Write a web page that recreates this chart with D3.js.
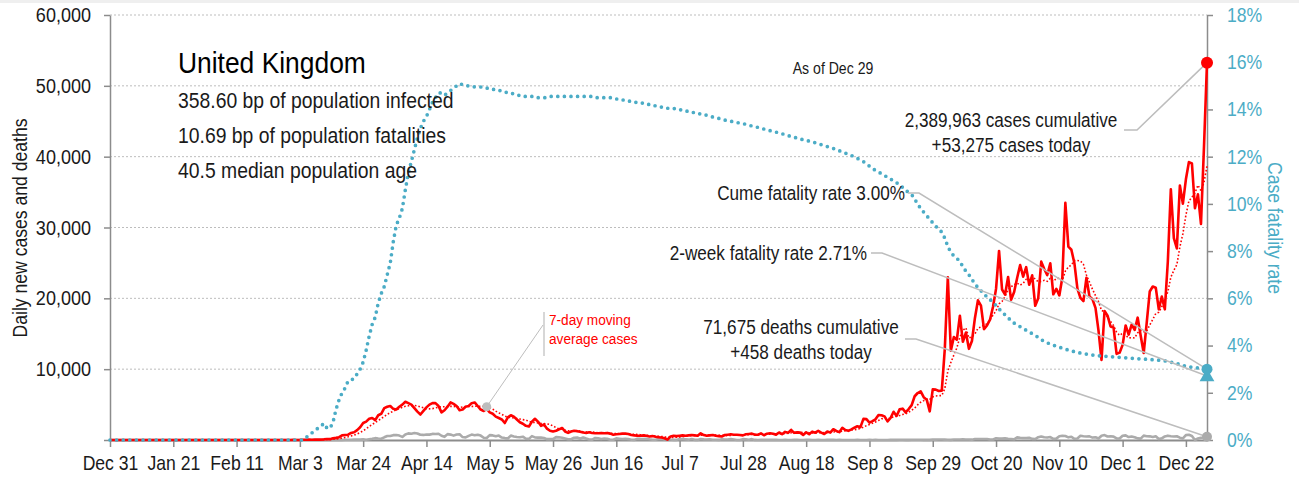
<!DOCTYPE html>
<html>
<head>
<meta charset="utf-8">
<script src="https://cdn.jsdelivr.net/npm/d3@7"></script>
<style>
  body { margin: 0; background: #fff; }
  svg { display: block; }
</style>
</head>
<body>
<svg id="chart" width="1299" height="480"></svg>
<script>
// ---- Data: United Kingdom, daily series from 2019-12-31 to 2020-12-29 ----
const seriesStart = "2019-12-31";

// Dec 31 .. Feb 29: nothing reported yet
const quietDays = [0,0,0,0,0,0,0,0,0,0,0,0,0,0,0,0,0,0,0,0,0,0,0,0,0,0,0,0,0,0,0,0,0,0,0,0,0,0,0,0,0,0,0,0,0,0,0,0,0,0,0,0,0,0,0,0,0,0,0,0,0];

// Daily new cases, one array per month
const casesMar = [13,4,11,34,30,48,43,67,48,52,83,134,117,250,300,400,650,700,750,1000,1100,1400,1800,2400,2600,3000,3100,2800,3500,3700,4500];
const casesApr = [4700,4800,4400,4300,4700,5000,5400,5200,5000,4500,4000,3600,4100,4600,5000,5200,5200,4800,3900,4200,4700,5300,5100,4800,4200,4300,4700,4800,5200,5300];
const casesMay = [4800,4300,4100,4400,3900,3700,3300,3100,2900,2400,3200,3500,3300,2900,2500,2300,2000,1900,2600,3000,2600,2000,2200,1600,1300,1200,1300,1500,1700,1200,1000];
const casesJun = [1200,1300,1250,1150,1050,1000,1100,1000,950,950,1000,950,1000,900,750,800,850,900,900,850,700,650,600,600,650,600,500,550,450,400];
const casesJul = [350,250,50,500,600,550,600,650,600,650,700,650,600,950,700,600,650,700,600,550,500,700,750,800,750,750,700,650,800,850,900];
const casesAug = [744,743,938,670,892,950,871,758,1062,816,1148,1009,1441,1012,1077,1040,713,1089,812,1182,1033,1288,1041,853,1184,1048,1522,1276,1108,1715,1406];
const casesSep = [1295,1508,1735,1940,1813,2988,2948,2460,2659,2919,3539,3497,3330,2621,3105,3991,3395,4322,4422,3899,4368,4926,6178,6634,6874,6042,5693,4044,7143,7108];
const casesOct = [6914,6968,12872,22961,12594,14542,14162,17540,13864,15166,12872,13972,17234,19724,18980,15650,16171,16982,18804,21331,26688,21242,20530,23012,19790,20890,22885,24701,23065,24405,21915];
const casesNov = [23254,18950,20018,25177,24141,23287,24957,20572,21350,20412,22950,33470,27301,26860,24962,21363,20051,19609,22915,20252,19875,18662,15450,11299,18213,17555,16022,15871,12155,12330];
const casesDec = [13430,16170,14879,16298,15539,17272,14718,12282,16578,20964,21672,21502,18447,20263,18450,25161,35383,28507,27052,35928,33364,36804,39237,39036,32725,34693,30501,41385,53275];

// Daily new deaths, one array per month
const deathsMar = [0,0,0,0,1,1,0,1,1,0,2,2,1,10,14,20,16,33,40,33,56,48,54,87,41,115,181,260,209,180,381];
const deathsApr = [563,569,684,708,621,439,786,938,881,980,917,737,717,778,761,861,847,888,596,449,828,763,616,768,813,413,360,586,765,674];
const deathsMay = [739,621,315,288,693,649,539,626,346,269,210,627,494,428,384,468,170,160,545,363,338,351,282,118,121,134,412,377,324,215,113];
const deathsJun = [111,324,359,176,357,204,77,55,286,245,151,202,181,36,38,233,184,135,173,128,43,15,171,154,149,186,100,36,25,155];
const deathsJul = [176,89,137,67,22,16,155,126,85,48,148,21,11,138,85,66,114,40,28,11,110,79,61,123,61,7,7,119,83,38,120];
const deathsAug = [11,8,18,20,18,12,18,13,7,3,14,9,10,11,12,5,6,12,16,6,9,12,2,3,16,14,12,9,12,1,2];
const deathsSep = [3,3,10,12,6,2,3,32,8,14,6,9,5,9,27,20,21,27,27,18,11,37,37,40,34,17,17,13,71,59];
const deathsOct = [66,66,49,33,19,76,70,77,87,81,65,50,143,137,138,136,150,67,80,241,191,189,224,174,151,102,367,310,280,274,326];
const deathsNov = [162,136,397,492,378,355,413,156,194,532,595,563,376,462,168,213,598,529,501,511,341,398,206,608,696,498,521,479,215,205];
const deathsDec = [603,648,414,504,397,231,189,616,533,516,424,519,144,232,506,612,532,489,534,326,215,691,744,570,0,210,316,357,458];

// Cumulative case fatality rate (%), one array per month
const cfrMar = [0,0,0,0,0.1,0.2,0.3,0.4,0.5,0.6,0.7,0.5,0.5,0.75,1.3,1.7,2.0,2.2,2.5,2.55,2.6,2.8,3.0,3.3,3.8,4.4,4.9,5.2,5.8,6.2,6.5];
const cfrApr = [7.0,7.5,8.4,9.1,9.4,9.8,10.6,11.3,11.8,12.3,12.8,13.2,13.5,13.7,14.0,14.3,14.5,14.7,14.7,14.6,14.7,14.8,14.9,15.0,15.1,15.05,15.0,15.0,15.0,14.95];
const cfrMay = [14.95,14.95,14.95,14.9,14.9,14.85,14.85,14.8,14.8,14.75,14.7,14.7,14.65,14.6,14.6,14.55,14.55,14.55,14.55,14.55,14.5,14.5,14.5,14.5,14.55,14.55,14.55,14.55,14.55,14.55,14.55];
const cfrJun = [14.55,14.55,14.55,14.55,14.55,14.55,14.55,14.55,14.5,14.5,14.5,14.5,14.5,14.5,14.45,14.45,14.4,14.4,14.4,14.35,14.35,14.3,14.3,14.3,14.25,14.25,14.2,14.2,14.15,14.15];
const cfrJul = [14.1,14.1,14.05,14.05,14.05,14.0,14.0,13.95,13.95,13.9,13.9,13.85,13.85,13.8,13.8,13.75,13.72,13.68,13.65,13.62,13.58,13.55,13.52,13.5,13.48,13.45,13.42,13.4,13.37,13.33,13.3];
const cfrAug = [13.27,13.24,13.2,13.17,13.14,13.1,13.07,13.04,13.0,12.97,12.93,12.89,12.86,12.82,12.79,12.75,12.72,12.69,12.66,12.62,12.59,12.55,12.51,12.47,12.43,12.39,12.35,12.3,12.25,12.2,12.15];
const cfrSep = [12.1,12.05,12.0,11.93,11.86,11.79,11.7,11.6,11.5,11.42,11.35,11.28,11.2,11.13,11.05,10.98,10.9,10.8,10.7,10.58,10.48,10.4,10.2,10.0,9.8,9.65,9.5,9.35,9.2,9.05];
const cfrOct = [8.95,8.8,8.55,8.2,7.95,7.8,7.7,7.55,7.35,7.15,7.0,6.8,6.62,6.45,6.32,6.2,6.05,5.95,5.82,5.7,5.55,5.42,5.3,5.18,5.05,4.95,4.88,4.8,4.72,4.65,4.58];
const cfrNov = [4.5,4.42,4.35,4.25,4.18,4.12,4.06,4.02,3.97,3.93,3.89,3.85,3.81,3.77,3.74,3.71,3.68,3.66,3.64,3.62,3.6,3.58,3.57,3.56,3.55,3.54,3.53,3.52,3.51,3.5];
const cfrDec = [3.49,3.48,3.47,3.46,3.45,3.44,3.44,3.43,3.42,3.41,3.4,3.39,3.38,3.36,3.35,3.33,3.3,3.27,3.24,3.2,3.16,3.13,3.1,3.08,3.07,3.05,3.04,3.02,3.0];

// Latest figures shown in the callouts
const twoWeekFatalityPct = 2.71;
const cumulativeCases = 2389963;
const cumulativeDeaths = 71675;
const movingAverageWindow = 7;
const calloutDate = "2020-05-04";

// Axis ticks
const countTicks = [0,10000,20000,30000,40000,50000,60000];
const rateTicks = [0,2,4,6,8,10,12,14,16,18];
const dateTicks = ["2019-12-31","2020-01-21","2020-02-11","2020-03-03","2020-03-24","2020-04-14","2020-05-05","2020-05-26","2020-06-16","2020-07-07","2020-07-28","2020-08-18","2020-09-08","2020-09-29","2020-10-20","2020-11-10","2020-12-01","2020-12-22"];

// Header text
const titleText = "United Kingdom";
const statLines = ["358.60 bp of population infected","10.69 bp of population fatalities","40.5 median population age"];

// ---- Assemble series ----
const casesDaily = [].concat(quietDays, casesMar, casesApr, casesMay, casesJun, casesJul, casesAug, casesSep, casesOct, casesNov, casesDec);
const deathsDaily = [].concat(quietDays, deathsMar, deathsApr, deathsMay, deathsJun, deathsJul, deathsAug, deathsSep, deathsOct, deathsNov, deathsDec);
const fatalityRate = [].concat(quietDays, cfrMar, cfrApr, cfrMay, cfrJun, cfrJul, cfrAug, cfrSep, cfrOct, cfrNov, cfrDec);

const parse = d3.utcParse("%Y-%m-%d");
const day0 = parse(seriesStart);
const dates = casesDaily.map((_, i) => d3.utcDay.offset(day0, i));

// trailing 7-day mean of daily cases
const casesAvg = casesDaily.map((_, i) =>
  d3.mean(casesDaily.slice(Math.max(0, i - movingAverageWindow + 1), i + 1)));

// ---- Layout ----
const FONT = "'Liberation Sans', Arial, sans-serif";
const NARROW = 0.88;            // horizontal squeeze for a condensed look
const W = 1299, H = 480;
const plot = { left: 110, right: 1207, top: 15, bottom: 440 };
const RED = "#ff0000", GREY = "#ababab", BLUE = "#4bacc6", AXIS = "#8c8c8c", INK = "#1a1a1a";

const svg = d3.select("#chart").attr("font-family", FONT);

svg.append("rect").attr("x", 0).attr("y", 0).attr("width", W).attr("height", 3).attr("fill", "#efefef");

const x = d3.scaleUtc().domain(d3.extent(dates)).range([plot.left, plot.right]);
const yCount = d3.scaleLinear().domain([0, 60000]).range([plot.bottom, plot.top]);
const yRate = d3.scaleLinear().domain([0, 18]).range([plot.bottom, plot.top]);

// gridlines
svg.append("g").selectAll("line")
  .data(countTicks.filter(v => v > 0))
  .join("line")
  .attr("x1", plot.left).attr("x2", plot.right)
  .attr("y1", d => yCount(d)).attr("y2", d => yCount(d))
  .attr("stroke", "#bdbdbd").attr("stroke-width", 1).attr("stroke-dasharray", "2,2");

// left axis
const gLeft = svg.append("g").attr("transform", `translate(${plot.left},0)`)
  .call(d3.axisLeft(yCount).tickValues(countTicks).tickSize(6).tickSizeOuter(0).tickPadding(13)
    .tickFormat(d => d === 0 ? "" : d3.format(",")(d)));
gLeft.attr("font-family", FONT).attr("font-size", 20.5);
gLeft.select(".domain").attr("stroke", AXIS).attr("stroke-width", 1.5);
gLeft.selectAll(".tick line").attr("stroke", AXIS).attr("stroke-width", 1.5);
gLeft.selectAll(".tick text").attr("fill", INK);

// right axis
const gRight = svg.append("g").attr("transform", `translate(${plot.right},0)`)
  .call(d3.axisRight(yRate).tickValues(rateTicks).tickSize(6).tickSizeOuter(0).tickPadding(14)
    .tickFormat(d => d + "%"));
gRight.attr("font-family", FONT).attr("font-size", 20);
gRight.select(".domain").attr("stroke", AXIS).attr("stroke-width", 1.5);
gRight.selectAll(".tick line").attr("stroke", AXIS).attr("stroke-width", 1.5);
gRight.selectAll(".tick text").attr("fill", BLUE);

// bottom axis
const gBottom = svg.append("g").attr("transform", `translate(0,${plot.bottom})`)
  .call(d3.axisBottom(x).tickValues(dateTicks.map(parse)).tickSize(7).tickSizeOuter(0).tickPadding(9)
    .tickFormat(d3.utcFormat("%b %-d")));
gBottom.attr("font-family", FONT).attr("font-size", 20);
gBottom.select(".domain").attr("stroke", AXIS).attr("stroke-width", 2);
gBottom.selectAll(".tick line").attr("stroke", AXIS).attr("stroke-width", 1.5);
gBottom.selectAll(".tick text").attr("fill", INK);

// axis titles
svg.append("text").attr("transform", `translate(27,228) rotate(-90)`)
  .attr("text-anchor", "middle").attr("font-size", 20).attr("fill", INK)
  .text("Daily new cases and deaths");
svg.append("text").attr("transform", `translate(1268,228) rotate(90)`)
  .attr("text-anchor", "middle").attr("font-size", 20).attr("fill", BLUE)
  .text("Case fatality rate");

// ---- Series ----
const lineOn = yS => d3.line().x((d, i) => x(dates[i])).y(d => yS(d));

svg.append("path").datum(deathsDaily)
  .attr("d", lineOn(yCount)).attr("fill", "none")
  .attr("stroke", GREY).attr("stroke-width", 2.6).attr("stroke-linejoin", "round");

svg.append("path").datum(casesDaily)
  .attr("d", lineOn(yCount)).attr("fill", "none")
  .attr("stroke", RED).attr("stroke-width", 2.6).attr("stroke-linejoin", "round");

svg.append("path").datum(casesAvg)
  .attr("d", lineOn(yCount)).attr("fill", "none")
  .attr("stroke", RED).attr("stroke-width", 1.6).attr("stroke-dasharray", "1.6,2");

svg.append("path").datum(fatalityRate)
  .attr("d", lineOn(yRate)).attr("fill", "none")
  .attr("stroke", BLUE).attr("stroke-width", 3.7)
  .attr("stroke-linecap", "round").attr("stroke-dasharray", "0,6.6");

// ---- Callouts ----
const last = dates.length - 1;
const xEnd = x(dates[last]);
const casesEnd = [xEnd, yCount(casesDaily[last])];
const cfrEnd = [xEnd, yRate(fatalityRate[last])];
const twoWeekEnd = [xEnd, yRate(twoWeekFatalityPct)];
const deathsEnd = [xEnd, yCount(deathsDaily[last])];

const leader = svg.append("g").attr("fill", "none").attr("stroke", "#bdbdbd").attr("stroke-width", 1.5);
const path3 = (a, b, c) => `M${a[0]},${a[1]}L${b[0]},${b[1]}L${c[0]},${c[1]}`;
leader.append("path").attr("d", path3([1124, 130], [1137, 130], casesEnd));
leader.append("path").attr("d", path3([908, 193], [919, 193], cfrEnd));
leader.append("path").attr("d", path3([871, 253], [882, 253], twoWeekEnd));
leader.append("path").attr("d", path3([905, 339], [916, 339], deathsEnd));

// moving-average pointer
const ci = d3.bisectLeft(dates, parse(calloutDate));
const maPoint = [x(dates[ci]), yCount(casesAvg[ci])];
leader.append("path").attr("d", `M${maPoint[0]},${maPoint[1]}L543,325`).attr("stroke-width", 1);
leader.append("path").attr("d", "M544,312L544,356").attr("stroke-width", 1.2);
svg.append("circle").attr("cx", maPoint[0]).attr("cy", maPoint[1]).attr("r", 4.5).attr("fill", "#bdbdbd");

// end markers
svg.append("circle").attr("cx", deathsEnd[0]).attr("cy", deathsEnd[1]).attr("r", 5).attr("fill", GREY);
svg.append("path").attr("transform", `translate(${twoWeekEnd[0]},${twoWeekEnd[1] + 1})`)
  .attr("d", d3.symbol(d3.symbolTriangle, 95)()).attr("fill", BLUE);
svg.append("circle").attr("cx", cfrEnd[0]).attr("cy", cfrEnd[1]).attr("r", 5.5).attr("fill", BLUE);
svg.append("circle").attr("cx", casesEnd[0]).attr("cy", casesEnd[1]).attr("r", 6).attr("fill", RED);

// ---- Text ----
svg.append("text").attr("x", 178).attr("y", 73).attr("font-size", 30).attr("fill", "#000").text(titleText);
svg.append("g").selectAll("text").data(statLines).join("text")
  .attr("x", 178).attr("y", (d, i) => 108 + i * 35)
  .attr("font-size", 22).attr("fill", INK).text(d => d);

svg.append("text").attr("x", 833).attr("y", 74).attr("text-anchor", "middle")
  .attr("font-size", 16).attr("fill", INK).text("As of " + d3.utcFormat("%b %-d")(dates[last]));

const fmt = d3.format(",");
const notes = [
  { x: 1011, y: 127, anchor: "middle", t: `${fmt(cumulativeCases)} cases cumulative` },
  { x: 1011, y: 152, anchor: "middle", t: `+${fmt(casesDaily[last])} cases today` },
  { x: 905, y: 200, anchor: "end", t: `Cume fatality rate ${fatalityRate[last].toFixed(2)}%` },
  { x: 867, y: 260, anchor: "end", t: `2-week fatality rate ${twoWeekFatalityPct.toFixed(2)}%` },
  { x: 801, y: 334, anchor: "middle", t: `${fmt(cumulativeDeaths)} deaths cumulative` },
  { x: 801, y: 359, anchor: "middle", t: `+${fmt(deathsDaily[last])} deaths today` }
];
svg.append("g").selectAll("text").data(notes).join("text")
  .attr("x", d => d.x).attr("y", d => d.y).attr("text-anchor", d => d.anchor)
  .attr("font-size", 19.5).attr("fill", INK).text(d => d.t);

svg.append("g").selectAll("text").data(["7-day moving", "average cases"]).join("text")
  .attr("x", 549).attr("y", (d, i) => 325 + i * 19)
  .attr("font-size", 15.5).attr("fill", RED).text(d => d);

// squeeze every label horizontally around its own anchor point
svg.selectAll("text").each(function () {
  const t = d3.select(this);
  const tf = t.attr("transform");
  if (tf) { t.attr("transform", `${tf} scale(${NARROW},1)`); return; }
  const x0 = +t.attr("x") || 0, y0 = +t.attr("y") || 0;
  t.attr("x", null).attr("y", null).attr("transform", `translate(${x0},${y0}) scale(${NARROW},1)`);
});
</script>
</body>
</html>
